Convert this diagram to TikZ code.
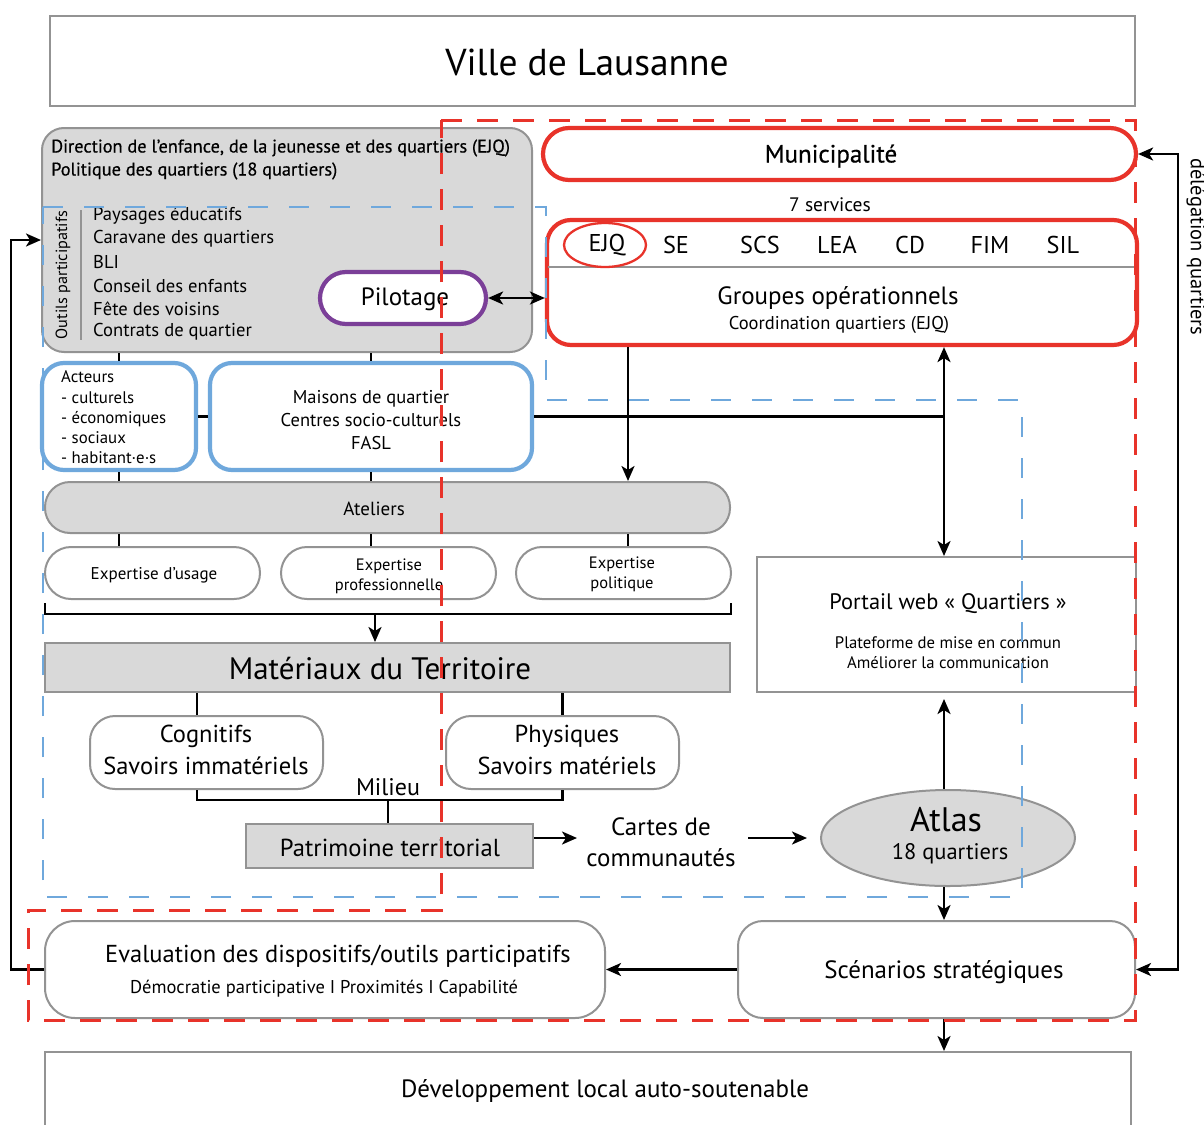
\documentclass[tikz,border=0pt]{standalone}
\usepackage{fontspec}
\setmainfont{PT Sans}
\newfontfamily\semib[FakeBold=0.5]{PT Sans}
\usetikzlibrary{arrows.meta,shapes.geometric}
\definecolor{mred}{HTML}{E8332A}
\definecolor{mblue}{HTML}{6FA8DC}
\definecolor{mpurple}{HTML}{7B3F98}
\definecolor{bgray}{HTML}{939393}
\definecolor{lgray}{HTML}{D9D9D9}
\newcommand{\fs}[2]{\fontsize{#1}{#2}\selectfont}
\begin{document}
\begin{tikzpicture}[x=1pt,y=-1pt,
  gbox/.style={draw=bgray,line width=2pt,fill=white,inner sep=0pt},
  gfill/.style={gbox,fill=lgray},
  redbox/.style={draw=mred,line width=4.2pt,fill=white,inner sep=0pt},
  bluebox/.style={draw=mblue,line width=4.2pt,fill=white,inner sep=0pt},
  lbl/.style={inner sep=0pt},
  conn/.style={line width=2.5pt,black},
  arr/.style={conn,-{Stealth[length=15pt,width=13pt,inset=4pt]}},
  darr/.style={conn,{Stealth[length=15pt,width=13pt,inset=4pt]}-{Stealth[length=15pt,width=13pt,inset=4pt]}},
  reddash/.style={draw=mred,line width=3pt,dash pattern=on 21pt off 15pt},
  bluedash/.style={draw=mblue,line width=2.8pt,dash pattern=on 20pt off 21pt}]
\useasboundingbox (0,0) rectangle (1204,1124);
\fill[white] (0,0) rectangle (1204,1124);

% --- top
\node[gbox,minimum width=1085pt,minimum height=90pt] (ville) at (592.5,61) {};
\node[lbl,font=\fs{37.5}{40}] (villet) at (587,62) {Ville de Lausanne};

% --- Direction box
\node[gfill,rounded corners=22pt,minimum width=490pt,minimum height=224pt] (dir) at (287,240) {};
\node[lbl,anchor=west,font=\semib\fs{18.3}{20}] (dir1) at (51,148) {Direction de l’enfance, de la jeunesse et des quartiers (EJQ)};
\node[lbl,anchor=west,font=\semib\fs{18.3}{20}] (dir2) at (51,171) {Politique des quartiers (18 quartiers)};
\node[lbl,rotate=90,font=\fs{16.2}{18}] (outils) at (63,275) {Outils participatifs};
\draw[bgray,line width=1.3pt] (81,210) -- (81,340);
\foreach \i/\t/\y in {1/Paysages éducatifs/216,2/Caravane des quartiers/239,3/BLI/262,4/Conseil des enfants/286,5/Fête des voisins/309,6/Contrats de quartier/332}
  \node[lbl,anchor=west,font=\fs{18.6}{20}] (li\i) at (93,\y) {\t};
\node[draw=mpurple,line width=4.2pt,fill=white,inner sep=0pt,rounded corners=26pt,minimum width=166pt,minimum height=52pt] (pilot) at (403,298) {};
\node[lbl,font=\fs{25}{28}] (pilott) at (405,299) {Pilotage};

% --- Municipalite / services
\node[redbox,rounded corners=26pt,minimum width=593pt,minimum height=52pt] (muni) at (839.5,154) {};
\node[lbl,font=\semib\fs{25}{28}] (munit) at (831,156) {Municipalité};
\node[lbl,font=\fs{19.5}{22}] (sept) at (830,205) {7 services};
\node[redbox,rounded corners=24pt,minimum width=590pt,minimum height=125pt] (serv) at (842,282.5) {};
\draw[bgray,line width=1.8pt] (548,267) -- (1136,267);
\foreach \t/\x in {EJQ/607,SE/676,SCS/760,LEA/837,CD/910,FIM/990,SIL/1063}
  \node[lbl,font=\fs{24.3}{26}] (s\t) at (\x,245) {\t};
\node[draw=mred,line width=2.3pt,ellipse,inner sep=0pt,minimum width=82pt,minimum height=44pt] (ejqring) at (605,245) {};
\node[lbl,font=\fs{25}{26}] (grp) at (838,298) {Groupes opérationnels};
\node[lbl,font=\fs{18.5}{19}] (coord) at (839,325) {Coordination quartiers (EJQ)};

% --- acteurs / maisons
\node[bluebox,rounded corners=22pt,minimum width=154pt,minimum height=107pt] (act) at (119,416.5) {};
\node[lbl,anchor=west,align=left,font=\fs{16.8}{20.3}] (actt) at (61,417.5) {Acteurs\\- culturels\\- économiques\\- sociaux\\- habitant·e·s};
\node[bluebox,rounded corners=22pt,minimum width=322pt,minimum height=107pt] (mais) at (371,416.5) {};
\node[lbl,align=center,font=\fs{18.5}{23}] (maist) at (371,420) {Maisons de quartier\\Centres socio-culturels\\FASL};

% --- ateliers / expertises
\node[gfill,rounded corners=25pt,minimum width=685pt,minimum height=51pt] (atel) at (387.5,507.5) {};
\node[lbl,font=\fs{19}{20}] (atelt) at (374,509) {Ateliers};
\node[gbox,rounded corners=26pt,minimum width=215pt,minimum height=52pt] (exp1) at (152.5,573) {};
\node[lbl,font=\fs{17}{20}] (exp1t) at (154,575) {Expertise d’usage};
\node[gbox,rounded corners=26pt,minimum width=215pt,minimum height=52pt] (exp2) at (388.5,573) {};
\node[lbl,align=center,font=\fs{16.5}{20}] (exp2t) at (389,576) {Expertise\\professionnelle};
\node[gbox,rounded corners=26pt,minimum width=215pt,minimum height=52pt] (exp3) at (623.5,573) {};
\node[lbl,align=center,font=\fs{16.5}{20}] (exp3t) at (622,574) {Expertise\\politique};

\node[gfill,minimum width=685pt,minimum height=49pt] (mat) at (387.5,667.5) {};
\node[lbl,font=\fs{31}{34}] (matt) at (380,669) {Matériaux du Territoire};
\node[gbox,rounded corners=25pt,minimum width=233pt,minimum height=73pt] (cog) at (206.5,752.5) {};
\node[lbl,align=center,font=\fs{24.5}{32}] (cogt) at (206,750) {Cognitifs\\Savoirs immatériels};
\node[gbox,rounded corners=25pt,minimum width=233pt,minimum height=73pt] (phys) at (562.5,752.5) {};
\node[lbl,align=center,font=\fs{24.5}{32}] (physt) at (567,750) {Physiques\\Savoirs matériels};
\node[lbl,font=\fs{24}{26}] (milieu) at (388,787) {Milieu};
\node[gfill,minimum width=287pt,minimum height=44pt] (pat) at (389.5,846) {};
\node[lbl,font=\fs{24.6}{27}] (patt) at (390,848) {Patrimoine territorial};
\node[lbl,align=center,font=\fs{25}{31}] (cartes) at (661,842) {Cartes de\\communautés};

% --- right column
\node[gbox,minimum width=379pt,minimum height=135pt] (portail) at (946.5,624.5) {};
\node[lbl,font=\fs{22.4}{24}] (portt) at (948,604) {Portail web « Quartiers »};
\node[lbl,align=center,font=\fs{16.7}{20}] (ports) at (948,653) {Plateforme de mise en commun\\Améliorer la communication};
\node[draw=bgray,line width=2pt,fill=lgray,ellipse,inner sep=0pt,minimum width=254pt,minimum height=96pt] (atlas) at (948,838) {};
\node[lbl,font=\fs{34}{36}] (atlast) at (946,820) {Atlas};
\node[lbl,font=\fs{22.5}{24}] (atlass) at (950,854) {18 quartiers};
\node[gbox,rounded corners=25pt,minimum width=397pt,minimum height=97pt] (scen) at (936.5,969.5) {};
\node[lbl,font=\fs{25}{27}] (scent) at (944,972) {Scénarios stratégiques};
\node[gbox,rounded corners=30pt,minimum width=560pt,minimum height=97pt] (eval) at (325,969.5) {};
\node[lbl,font=\fs{24.5}{27}] (evalt) at (338,956) {Evaluation des dispositifs/outils participatifs};
\node[lbl,font=\fs{18.5}{19}] (evals) at (324,989) {Démocratie participative I Proximités I Capabilité};
\node[gbox,minimum width=1086pt,minimum height=100pt] (dev) at (588,1102) {};
\node[lbl,font=\fs{25}{27}] (devt) at (605,1091) {Développement local auto-soutenable};
\node[lbl,rotate=-90,font=\fs{20.5}{22}] (deleg) at (1196,247) {délégation quartiers};

% --- coordinates
\coordinate (cx) at (944,0);
\coordinate (c628) at (628,0);
\coordinate (lx) at (11,0);
\coordinate (rx) at (1178,0);
\coordinate (bra) at (45,603);
\coordinate (brb) at (731,603);
\coordinate (brc) at (375,614);
\coordinate (cogx) at (197,0);
\coordinate (mil) at (388,800);
\coordinate (patarr) at (577,838);
\coordinate (cartout) at (748,838);

% --- connectors
\draw[conn] (act.north) -- (act.north |- dir.south);
\draw[conn] (mais.north) -- (mais.north |- dir.south);
\draw[conn] (act.east) -- (mais.west);
\draw[conn] (mais.east) -- (mais.east -| cx);
\draw[darr] (pilot.east) -- (pilot.east -| serv.west);
\draw[arr] (serv.south -| c628) -- (atel.north -| c628);
\draw[darr] (serv.south -| cx) -- (portail.north -| cx);
\draw[conn] (act.south) -- (act.south |- atel.north);
\draw[conn] (mais.south) -- (mais.south |- atel.north);
\draw[conn] (atel.south -| act) -- (exp1.north -| act);
\draw[conn] (atel.south -| mais) -- (exp2.north -| mais);
\draw[conn] (atel.south -| c628) -- (exp3.north -| c628);
\draw[conn] (bra) -- (bra |- brc) -- (brb |- brc) -- (brb);
\draw[arr] (brc) -- (brc |- mat.north);
\draw[conn] (mat.south -| cogx) -- (cog.north -| cogx);
\draw[conn] (phys.north) -- (phys.north |- mat.south);
\draw[conn] (cog.south -| cogx) -- (cogx |- mil) -- (phys.south |- mil) -- (phys.south);
\draw[conn] (mil) -- (mil |- pat.north);
\draw[arr] (pat.east |- patarr) -- (patarr);
\draw[arr,shorten >=13pt] (cartout) -- (atlas.west);
\draw[arr,shorten >=6pt] (cx |- atlas.north) -- (cx |- portail.south);
\draw[arr] (cx |- atlas.south) -- (cx |- scen.north);
\draw[arr] (cx |- scen.south) -- (cx |- dev.north);
\draw[arr] (scen.west) -- (eval.east);
\draw[arr] (eval.west) -- (eval.west -| lx) -- (dir.west -| lx) -- (dir.west);
\draw[darr] (muni.east) -- (muni.east -| rx) -- (scen.east -| rx) -- (scen.east);

% --- dashed zones
\draw[bluedash] (43,207) -- (546,207) -- (546,400) -- (1022,400) -- (1022,897) -- (43,897) -- cycle;
\draw[reddash] (441,120) -- (1135,120) -- (1135,1020) -- (28,1020) -- (28,910) -- (441,910) -- cycle;
\end{tikzpicture}
\end{document}
